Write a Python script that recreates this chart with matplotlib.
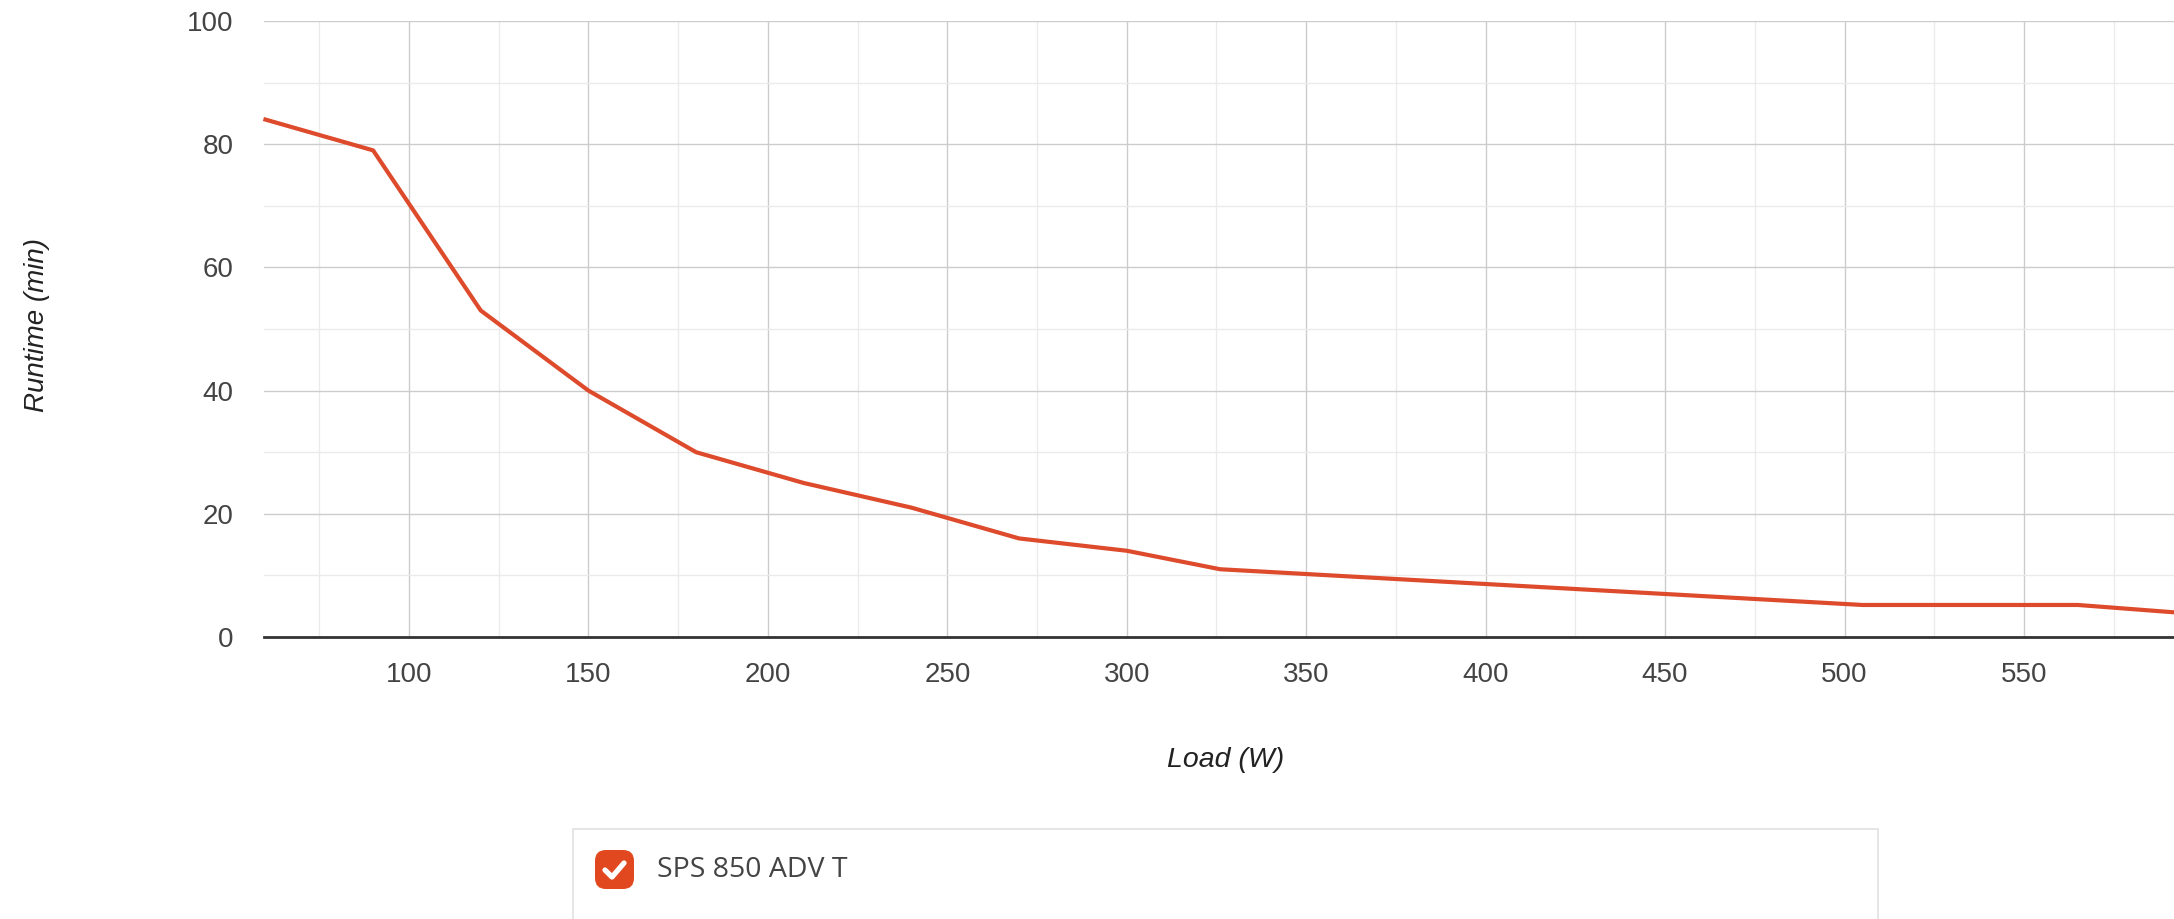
import matplotlib.pyplot as plt
from matplotlib.patches import Rectangle, FancyBboxPatch
from matplotlib.ticker import MultipleLocator

# runtime curve
load_w = [60, 90, 120, 150, 180, 210, 240, 270, 300, 326, 505, 565, 592]
runtime_min = [84, 79, 53, 40, 30, 25, 21, 16, 14, 11, 5.2, 5.2, 4.0]
series_name = "SPS 850 ADV T"

x_ticks = [100, 150, 200, 250, 300, 350, 400, 450, 500, 550]
y_ticks = [0, 20, 40, 60, 80, 100]

W, H = 2174, 919
line_color = "#dd4b2c"
text_color = "#444444"

fig = plt.figure(figsize=(W / 100, H / 100), dpi=100)
fig.patch.set_facecolor("white")

# axes placed in pixel units
left, right, top, bottom = 264, 2174, 21, 637
ax = fig.add_axes([left / W, (H - bottom) / H, (right - left) / W, (bottom - top) / H])

ax.plot(load_w, runtime_min, color=line_color, lw=3.0, solid_joinstyle="round",
        zorder=3, clip_on=False)

ax.set_xlim(59.6, 591.8)
ax.set_ylim(0, 100)
ax.set_xticks(x_ticks)
ax.set_yticks(y_ticks)
ax.xaxis.set_minor_locator(MultipleLocator(25))
ax.yaxis.set_minor_locator(MultipleLocator(10))

ax.grid(True, which="major", color="#cccccc", lw=1.0, zorder=0)
ax.grid(True, which="minor", color="#ebebeb", lw=1.0, zorder=0)
ax.set_axisbelow(True)

for s in ["top", "right", "left"]:
    ax.spines[s].set_visible(False)
ax.spines["bottom"].set_color("#333333")
ax.spines["bottom"].set_linewidth(2.0)
ax.spines["bottom"].set_zorder(4)

ax.tick_params(which="both", length=0)
ax.tick_params(axis="y", pad=22)
ax.tick_params(axis="x", pad=18)
for lab in ax.get_xticklabels() + ax.get_yticklabels():
    lab.set_fontfamily("Liberation Sans")
    lab.set_fontsize(20)
    lab.set_color(text_color)

# axis titles
fig.text(37 / W, 1 - 325 / H, "Runtime (min)", rotation=90, ha="center", va="center",
         fontsize=20, fontstyle="italic", family="Liberation Sans", color="#222222")
fig.text(1226 / W, 1 - 760 / H, "Load (W)", ha="center", va="center",
         fontsize=20.5, fontstyle="italic", family="Liberation Sans", color="#222222")

# legend panel with checkbox
tr = fig.transFigure
fig.patches.append(Rectangle((573 / W, -0.05), (1878 - 573) / W, (H - 829) / H + 0.05,
                             transform=tr, facecolor="white", edgecolor="#e3e3e3",
                             lw=1.3, zorder=1))
bx, by, bs = 595, 850, 39
fig.patches.append(FancyBboxPatch((bx / W, 1 - (by + bs) / H), bs / W, bs / H,
                                  boxstyle="round,pad=0,rounding_size=0.005",
                                  transform=tr, facecolor="#e2481f", edgecolor="none",
                                  zorder=2, mutation_aspect=W / H))
cx = [bx + 10, bx + 17, bx + 29]
cy = [by + 20, by + 27, by + 13]
fig.lines.append(plt.Line2D([v / W for v in cx], [1 - v / H for v in cy], transform=tr,
                            color="white", lw=3.8, solid_capstyle="round",
                            solid_joinstyle="round", zorder=3))
fig.text(657 / W, 1 - 870 / H, series_name, ha="left", va="center", fontsize=20.5,
         family="Open Sans", color=text_color)

fig.savefig("out.png", dpi=100)
